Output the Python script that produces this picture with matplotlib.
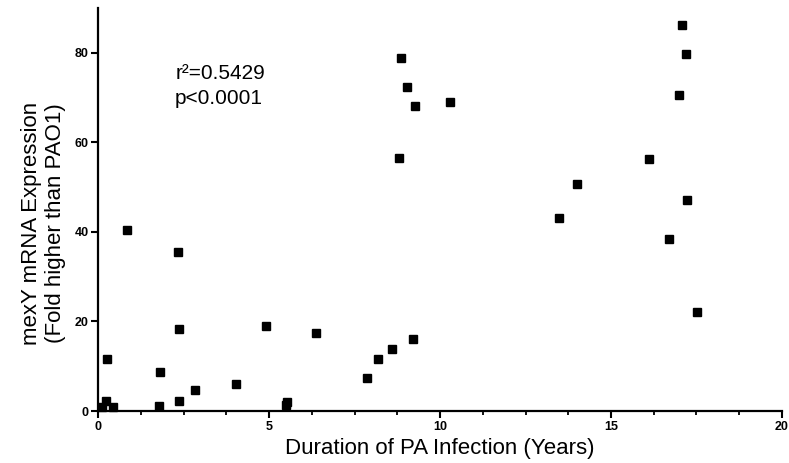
import matplotlib
matplotlib.use("Agg")
import matplotlib.pyplot as plt
from matplotlib.ticker import MultipleLocator

# duration of infection (years) vs mexY expression (fold over PAO1)
years = [0.10, 0.23, 0.26, 0.42, 0.85, 1.78, 1.80, 2.34, 2.37, 2.37,
         2.84, 4.03, 4.90, 5.51, 5.49, 6.36, 7.86, 8.19, 8.60, 9.20,
         8.80, 8.87, 9.03, 9.26, 10.30, 13.48, 14.00, 16.11, 16.70, 16.99,
         17.07, 17.18, 17.22, 17.53]
mexy = [1.0, 2.2, 11.6, 1.0, 40.3, 1.1, 8.8, 35.5, 18.3, 2.2,
        4.6, 6.0, 19.0, 1.9, 1.3, 17.5, 7.4, 11.6, 13.8, 16.0,
        56.5, 78.9, 72.4, 68.2, 68.9, 43.1, 50.7, 56.3, 38.5, 70.6,
        86.2, 79.8, 47.0, 22.1]

x_ticks = [0, 5, 10, 15, 20]
y_ticks = [0, 20, 40, 60, 80]

plt.rcParams['font.family'] = ['Liberation Sans', 'DejaVu Sans']

fig = plt.figure(figsize=(7.89, 4.63), dpi=100)
ax = fig.add_axes([0.1245, 0.1123, 0.8665, 0.8707])

ax.plot(years, mexy, linestyle='none', marker='s', markersize=5.8,
        color='black', clip_on=False)

ax.set_xlim(0, 20)
ax.set_ylim(0, 90)
ax.set_xticks(x_ticks)
ax.set_yticks(y_ticks)
ax.xaxis.set_minor_locator(MultipleLocator(1.25))

for side in ['top', 'right']:
    ax.spines[side].set_visible(False)
for side in ['left', 'bottom']:
    ax.spines[side].set_linewidth(1.6)

ax.tick_params(which='major', length=5, width=1.5, labelsize=9, pad=2)
ax.tick_params(which='minor', length=3, width=1.3)
for lab in ax.get_xticklabels() + ax.get_yticklabels():
    lab.set_fontweight('bold')

ax.set_xlabel('Duration of PA Infection (Years)', fontsize=16, labelpad=4)
ax.set_ylabel('mexY mRNA Expression\n(Fold higher than PAO1)', fontsize=16,
              labelpad=6)
ax.yaxis.label.set_y(0.466)

ax.text(2.25, 72.5, 'r²=0.5429\np<0.0001', fontsize=15, va='center',
        ha='left', linespacing=1.4)

fig.savefig('out.png', dpi=100)
